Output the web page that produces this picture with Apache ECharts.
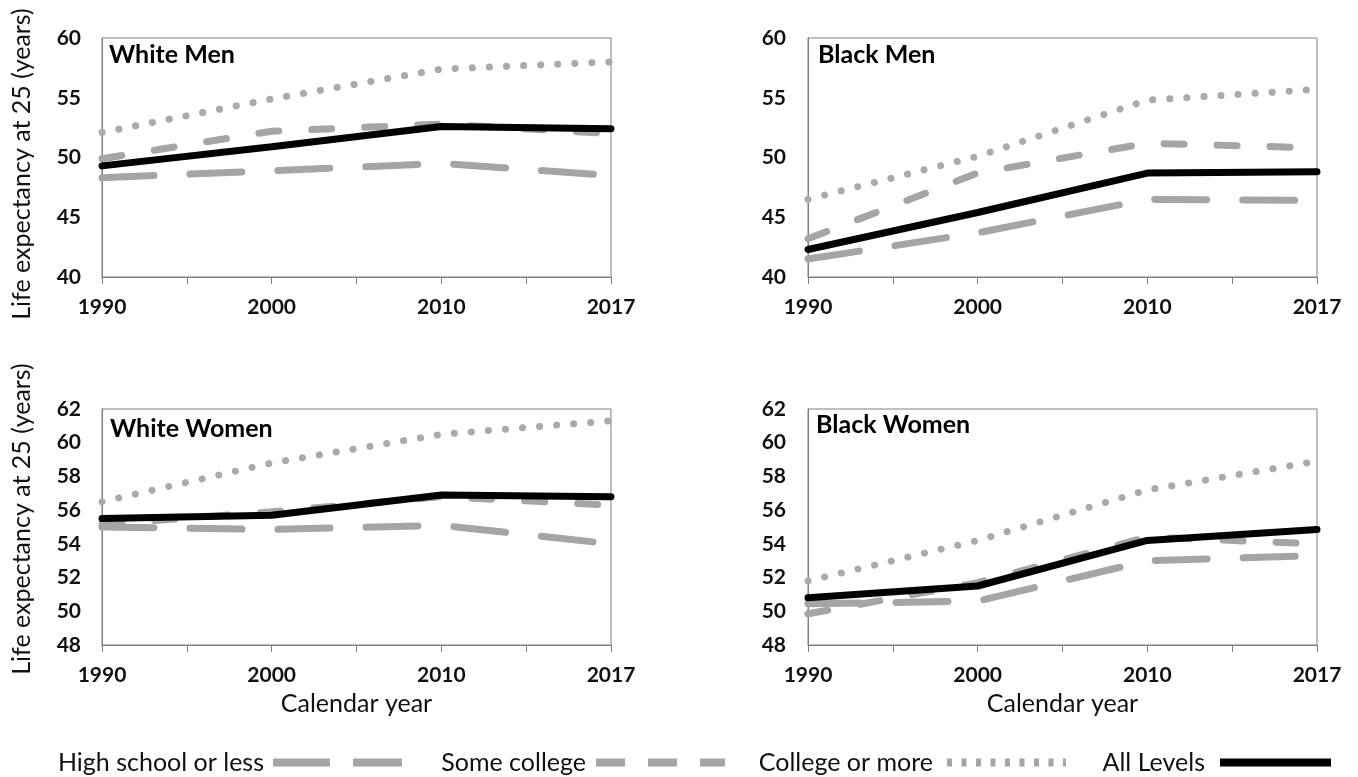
<!DOCTYPE html>
<html>
<head>
<meta charset="utf-8">
<script src="https://cdn.jsdelivr.net/npm/echarts@6/dist/echarts.min.js"></script>
<style>
html,body{margin:0;padding:0;background:#fff;}
#c{width:1358px;height:777px;}
</style>
</head>
<body>
<div id="c"></div>
<script>
// ---- data ----
const years = ['1990', '2000', '2010', '2017'];
const seriesNames = ['High school or less', 'Some college', 'College or more', 'All Levels'];
const panelTitles = ['White Men', 'Black Men', 'White Women', 'Black Women'];

const whiteMenHS = [48.3, 48.9, 49.5, 48.5];
const whiteMenSC = [49.9, 52.2, 52.8, 52.0];
const whiteMenCM = [52.1, 54.9, 57.4, 58.0];
const whiteMenAll = [49.3, 50.9, 52.6, 52.4];

const blackMenHS = [41.5, 43.7, 46.5, 46.4];
const blackMenSC = [43.2, 48.7, 51.2, 50.8];
const blackMenCM = [46.5, 50.1, 54.8, 55.7];
const blackMenAll = [42.3, 45.4, 48.7, 48.8];

const whiteWomenHS = [55.0, 54.85, 55.1, 54.0];
const whiteWomenSC = [55.15, 55.9, 56.8, 56.3];
const whiteWomenCM = [56.5, 58.8, 60.5, 61.3];
const whiteWomenAll = [55.5, 55.7, 56.9, 56.8];

const blackWomenHS = [50.45, 50.6, 53.0, 53.3];
const blackWomenSC = [49.85, 51.7, 54.4, 54.0];
const blackWomenCM = [51.8, 54.2, 57.2, 58.9];
const blackWomenAll = [50.8, 51.5, 54.2, 54.85];

const panelData = [
  [whiteMenHS, whiteMenSC, whiteMenCM, whiteMenAll],
  [blackMenHS, blackMenSC, blackMenCM, blackMenAll],
  [whiteWomenHS, whiteWomenSC, whiteWomenCM, whiteWomenAll],
  [blackWomenHS, blackWomenSC, blackWomenCM, blackWomenAll]
];
const yRanges = [[40, 60, 5], [40, 60, 5], [48, 62, 2], [48, 62, 2]];
const yTitle = 'Life expectancy at 25 (years)';
const xTitle = 'Calendar year';

// ---- styles ----
const FONT = 'Lato';
const GRAY = '#a5a5a5';
const AXIS = '#808080';
const lineStyles = [
  {color: GRAY, width: 7, type: [52, 36], cap: 'round'},
  {color: GRAY, width: 7, type: [20, 33], cap: 'round'},
  {color: '#aaaaaa', width: 7, type: [0.1, 17], cap: 'round'},
  {color: '#000', width: 7, type: 'solid', cap: 'round'}
];
const grids = [
  {left: 102, top: 38, width: 509, height: 239},
  {left: 808, top: 38, width: 509, height: 239},
  {left: 102, top: 409, width: 509, height: 236},
  {left: 808, top: 409, width: 509, height: 236}
];
const titlePos = [[109, 42], [818, 42], [110, 416], [816, 412]];
const yTitlePos = [[22, 164], [22, 519]];
const legendIconEnd = [406, 729, 1070, 1335];
const legendIconW = [129, 129, 119, 111];
const legendTextGap = [4, 5, 9, 10];
const legendLine = [
  {color: GRAY, width: 8, type: [57, 23], cap: 'butt'},
  {color: GRAY, width: 8, type: [29, 23], cap: 'butt'},
  {color: GRAY, width: 8, type: [5, 9.5], cap: 'butt'},
  {color: '#000', width: 8, type: 'solid', cap: 'butt'}
];

const option = {
  animation: false,
  backgroundColor: '#fff',
  title: panelTitles.map((t, i) => ({
    text: t, left: titlePos[i][0], top: titlePos[i][1], padding: 0,
    textStyle: {fontFamily: FONT, fontWeight: 'bold', fontSize: 25, color: '#000'}
  })),
  graphic: yTitlePos.map(p => ({
    type: 'text', x: p[0], y: p[1], rotation: Math.PI / 2, silent: true,
    style: {text: yTitle, fontFamily: FONT, fontSize: 25, fill: '#111', align: 'center', verticalAlign: 'middle'}
  })),
  grid: grids.map(g => Object.assign({show: true, borderColor: AXIS, borderWidth: 1, backgroundColor: 'transparent'}, g)),
  xAxis: grids.map((g, i) => ({
    type: 'value', gridIndex: i, min: 0, max: years.length - 1, interval: 0.5,
    splitLine: {show: false},
    axisLine: {show: true, lineStyle: {color: AXIS, width: 1}},
    axisTick: {show: true, length: 7, lineStyle: {color: AXIS}},
    axisLabel: {
      showMinLabel: true, showMaxLabel: true, margin: 20,
      fontFamily: FONT, fontWeight: 'bold', fontSize: 21, color: '#111',
      formatter: v => Number.isInteger(v) ? years[v] : ''
    },
    name: i >= 2 ? xTitle : '', nameLocation: 'middle', nameGap: 46,
    nameTextStyle: {fontFamily: FONT, fontSize: 25, color: '#111'}
  })),
  yAxis: grids.map((g, i) => ({
    type: 'value', gridIndex: i, min: yRanges[i][0], max: yRanges[i][1], interval: yRanges[i][2],
    splitLine: {show: false},
    axisLine: {show: true, lineStyle: {color: AXIS, width: 1}},
    axisTick: {show: false},
    axisLabel: {margin: i % 2 === 0 ? 21 : 22, fontFamily: FONT, fontWeight: 'bold', fontSize: 21, color: '#111'}
  })),
  legend: seriesNames.map((n, k) => ({
    data: [n],
    right: 1358 - legendIconEnd[k], top: 750,
    align: 'right',
    itemWidth: legendIconW[k], itemHeight: 24, itemGap: 0, padding: 0,
    selectedMode: false,
    textStyle: {fontFamily: FONT, fontSize: 25, color: '#111', padding: [0, legendTextGap[k], 0, 0]},
    itemStyle: {color: 'rgba(0,0,0,0)', borderColor: 'rgba(0,0,0,0)', borderWidth: 0, opacity: 0},
    lineStyle: legendLine[k]
  })),
  series: []
};

panelData.forEach((arrs, p) => {
  arrs.forEach((vals, k) => {
    option.series.push({
      type: 'line', name: seriesNames[k], xAxisIndex: p, yAxisIndex: p,
      data: vals.map((v, i) => [i, v]),
      symbol: 'none', silent: true, z: 2 + k,
      itemStyle: {color: lineStyles[k].color},
      lineStyle: lineStyles[k]
    });
  });
});

const chart = echarts.init(document.getElementById('c'), null, {renderer: 'canvas'});
chart.setOption(option);
</script>
</body>
</html>
